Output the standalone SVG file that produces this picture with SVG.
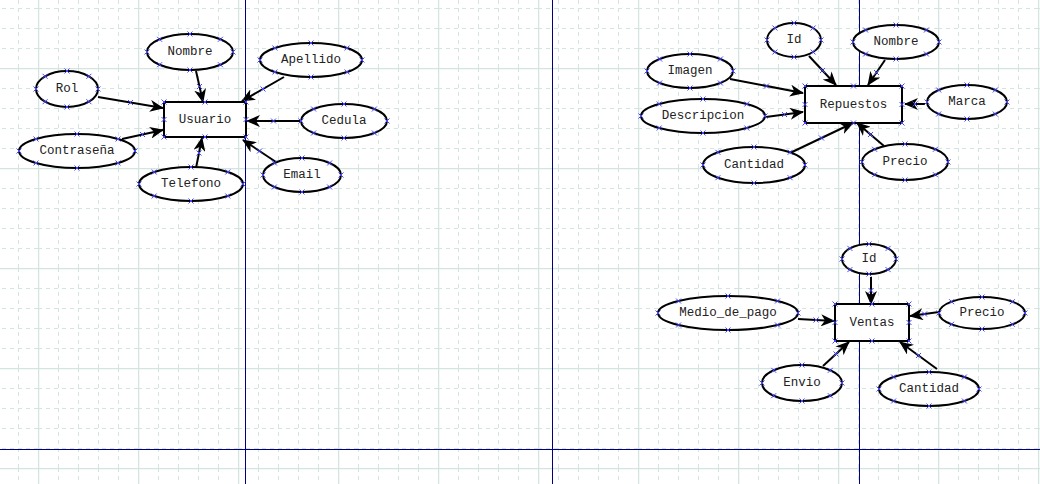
<svg xmlns="http://www.w3.org/2000/svg" width="1040" height="484" viewBox="0 0 1040 484">
<style>
.ent{fill:#fff;stroke:#000;stroke-width:2}
.att{fill:#fff;stroke:#000;stroke-width:2}
.lbl{font-family:"Liberation Mono","Courier New",monospace;font-size:12.5px;fill:#222;text-anchor:middle;dominant-baseline:central}
.con{stroke:#000;stroke-width:2;fill:none;marker-end:url(#arr)}
.pts{fill:none;stroke:none;marker-start:url(#xm);marker-mid:url(#xm);marker-end:url(#xm)}
.pb{stroke:#000080;stroke-width:1}
</style>
<defs>
<marker id="arr" markerUnits="userSpaceOnUse" markerWidth="16" markerHeight="12" refX="13" refY="6" orient="auto">
<path d="M0,0 L14,6 L0,12 L4,6 z" fill="#000"/>
</marker>
<marker id="xm" markerUnits="userSpaceOnUse" markerWidth="8" markerHeight="8" refX="4" refY="4" orient="0" overflow="visible">
<path d="M1.5,1.5 L6.5,6.5 M1.5,6.5 L6.5,1.5" stroke="#4646ff" stroke-width="1" fill="none"/>
</marker>
<pattern id="grid" patternUnits="userSpaceOnUse" x="38" y="68" width="100" height="100">
<g stroke="#d3e5e1" stroke-width="1" stroke-dasharray="4,4" fill="none">
<path d="M20.5,0V100M40.5,0V100M60.5,0V100M80.5,0V100"/>
<path d="M0,20.5H100M0,40.5H100M0,60.5H100M0,80.5H100"/>
</g>
<g stroke="#d3e5e1" stroke-width="1.5" fill="none">
<path d="M0.5,0V100M0,0.5H100"/>
</g>
</pattern>
</defs>
<rect width="1040" height="484" fill="#fff"/>
<rect width="1040" height="484" fill="url(#grid)"/>
<g id="page-breaks">
<path class="pb" d="M245.5,0V484M552.5,0V484M859.5,0V484M0,449.5H1040"/>
</g>
<g id="connectors">
<line class="con" x1="98" y1="97" x2="163" y2="108"/>
<line class="con" x1="122" y1="139" x2="163" y2="130"/>
<line class="con" x1="196" y1="71" x2="203" y2="102"/>
<line class="con" x1="284" y1="77" x2="242" y2="101"/>
<line class="con" x1="300" y1="121" x2="247" y2="121"/>
<line class="con" x1="276" y1="162" x2="243" y2="140"/>
<line class="con" x1="196" y1="168" x2="202" y2="138"/>
<line class="con" x1="809" y1="56" x2="836" y2="85"/>
<line class="con" x1="885" y1="60" x2="868" y2="85"/>
<line class="con" x1="730" y1="79" x2="803" y2="93"/>
<line class="con" x1="766" y1="117" x2="803" y2="112"/>
<line class="con" x1="925" y1="104" x2="905" y2="104"/>
<line class="con" x1="790" y1="153" x2="853" y2="123"/>
<line class="con" x1="884" y1="146" x2="857" y2="123"/>
<line class="con" x1="871" y1="277" x2="871" y2="304"/>
<line class="con" x1="798" y1="319" x2="834" y2="321"/>
<line class="con" x1="939" y1="312" x2="910" y2="316"/>
<line class="con" x1="823" y1="366" x2="849" y2="342"/>
<line class="con" x1="937" y1="369" x2="900" y2="342"/>
<polyline class="pts" points="130.5,102.5 142.5,134.5 199.5,86.5 263,89 273.5,121 259.5,151 199,153 822.5,70.5 876.5,72.5 766.5,86 784.5,114.5 915,104 821.5,138 870.5,134.5 871,290.5 816,320 924.5,314 836,354 918.5,355.5"/>
</g>
<g id="usuario">
<rect class="ent" x="164" y="102" width="82" height="35"/>
<text class="lbl" x="205" y="120">Usuario</text>
<polyline class="pts" points="164,102 205,102 246,102 246,119.5 246,137 205,137 164,137 164,119.5"/>
</g>
<g id="usuario-nombre">
<ellipse class="att" cx="190" cy="52" rx="43" ry="18"/>
<text class="lbl" x="190" y="52">Nombre</text>
<polyline class="pts" points="147,52 233,52 190,34 190,70 159.6,39.3 220.4,39.3 159.6,64.7 220.4,64.7"/>
</g>
<g id="usuario-apellido">
<ellipse class="att" cx="311" cy="60" rx="51" ry="17"/>
<text class="lbl" x="311" y="60">Apellido</text>
<polyline class="pts" points="260,60 362,60 311,43 311,77 274.9,48 347.1,48 274.9,72 347.1,72"/>
</g>
<g id="usuario-rol">
<ellipse class="att" cx="67" cy="89" rx="31" ry="18"/>
<text class="lbl" x="67" y="89">Rol</text>
<polyline class="pts" points="36,89 98,89 67,71 67,107 45.1,76.3 88.9,76.3 45.1,101.7 88.9,101.7"/>
</g>
<g id="usuario-cedula">
<ellipse class="att" cx="344" cy="121" rx="43" ry="17"/>
<text class="lbl" x="344" y="121">Cedula</text>
<polyline class="pts" points="301,121 387,121 344,104 344,138 313.6,109 374.4,109 313.6,133 374.4,133"/>
</g>
<g id="usuario-contrasena">
<ellipse class="att" cx="77" cy="151" rx="58" ry="17"/>
<text class="lbl" x="77" y="151">Contraseña</text>
<polyline class="pts" points="19,151 135,151 77,134 77,168 36,139 118,139 36,163 118,163"/>
</g>
<g id="usuario-telefono">
<ellipse class="att" cx="191" cy="184" rx="52" ry="17"/>
<text class="lbl" x="191" y="184">Telefono</text>
<polyline class="pts" points="139,184 243,184 191,167 191,201 154.2,172 227.8,172 154.2,196 227.8,196"/>
</g>
<g id="usuario-email">
<ellipse class="att" cx="302" cy="175" rx="39" ry="17"/>
<text class="lbl" x="302" y="175">Email</text>
<polyline class="pts" points="263,175 341,175 302,158 302,192 274.4,163 329.6,163 274.4,187 329.6,187"/>
</g>
<g id="repuestos">
<rect class="ent" x="805" y="86" width="97" height="37"/>
<text class="lbl" x="853.5" y="105">Repuestos</text>
<polyline class="pts" points="805,86 853.5,86 902,86 902,104.5 902,123 853.5,123 805,123 805,104.5"/>
</g>
<g id="repuestos-id">
<ellipse class="att" cx="794" cy="40" rx="27" ry="17"/>
<text class="lbl" x="794" y="40">Id</text>
<polyline class="pts" points="767,40 821,40 794,23 794,57 774.9,28 813.1,28 774.9,52 813.1,52"/>
</g>
<g id="repuestos-nombre">
<ellipse class="att" cx="896" cy="42" rx="43" ry="17"/>
<text class="lbl" x="896" y="42">Nombre</text>
<polyline class="pts" points="853,42 939,42 896,25 896,59 865.6,30 926.4,30 865.6,54 926.4,54"/>
</g>
<g id="repuestos-imagen">
<ellipse class="att" cx="690" cy="71" rx="43" ry="17"/>
<text class="lbl" x="690" y="71">Imagen</text>
<polyline class="pts" points="647,71 733,71 690,54 690,88 659.6,59 720.4,59 659.6,83 720.4,83"/>
</g>
<g id="repuestos-descripcion">
<ellipse class="att" cx="703" cy="116" rx="62" ry="17"/>
<text class="lbl" x="703" y="116">Descripcion</text>
<polyline class="pts" points="641,116 765,116 703,99 703,133 659.2,104 746.8,104 659.2,128 746.8,128"/>
</g>
<g id="repuestos-marca">
<ellipse class="att" cx="967" cy="102" rx="40" ry="17"/>
<text class="lbl" x="967" y="102">Marca</text>
<polyline class="pts" points="927,102 1007,102 967,85 967,119 938.7,90 995.3,90 938.7,114 995.3,114"/>
</g>
<g id="repuestos-cantidad">
<ellipse class="att" cx="754" cy="165" rx="51" ry="18"/>
<text class="lbl" x="754" y="165">Cantidad</text>
<polyline class="pts" points="703,165 805,165 754,147 754,183 717.9,152.3 790.1,152.3 717.9,177.7 790.1,177.7"/>
</g>
<g id="repuestos-precio">
<ellipse class="att" cx="905" cy="162" rx="43" ry="18"/>
<text class="lbl" x="905" y="162">Precio</text>
<polyline class="pts" points="862,162 948,162 905,144 905,180 874.6,149.3 935.4,149.3 874.6,174.7 935.4,174.7"/>
</g>
<g id="ventas">
<rect class="ent" x="835" y="304" width="74" height="37"/>
<text class="lbl" x="872" y="323">Ventas</text>
<polyline class="pts" points="835,304 872,304 909,304 909,322.5 909,341 872,341 835,341 835,322.5"/>
</g>
<g id="ventas-id">
<ellipse class="att" cx="869" cy="259" rx="27" ry="15"/>
<text class="lbl" x="869" y="259">Id</text>
<polyline class="pts" points="842,259 896,259 869,244 869,274 849.9,248.4 888.1,248.4 849.9,269.6 888.1,269.6"/>
</g>
<g id="ventas-medio">
<ellipse class="att" cx="728" cy="313" rx="70" ry="17"/>
<text class="lbl" x="728" y="313">Medio_de_pago</text>
<polyline class="pts" points="658,313 798,313 728,296 728,330 678.5,301 777.5,301 678.5,325 777.5,325"/>
</g>
<g id="ventas-precio">
<ellipse class="att" cx="982" cy="313" rx="43" ry="16"/>
<text class="lbl" x="982" y="313">Precio</text>
<polyline class="pts" points="939,313 1025,313 982,297 982,329 951.6,301.7 1012.4,301.7 951.6,324.3 1012.4,324.3"/>
</g>
<g id="ventas-envio">
<ellipse class="att" cx="802" cy="383" rx="40" ry="18"/>
<text class="lbl" x="802" y="383">Envio</text>
<polyline class="pts" points="762,383 842,383 802,365 802,401 773.7,370.3 830.3,370.3 773.7,395.7 830.3,395.7"/>
</g>
<g id="ventas-cantidad">
<ellipse class="att" cx="929" cy="389" rx="50" ry="17"/>
<text class="lbl" x="929" y="389">Cantidad</text>
<polyline class="pts" points="879,389 979,389 929,372 929,406 893.6,377 964.4,377 893.6,401 964.4,401"/>
</g>
</svg>
